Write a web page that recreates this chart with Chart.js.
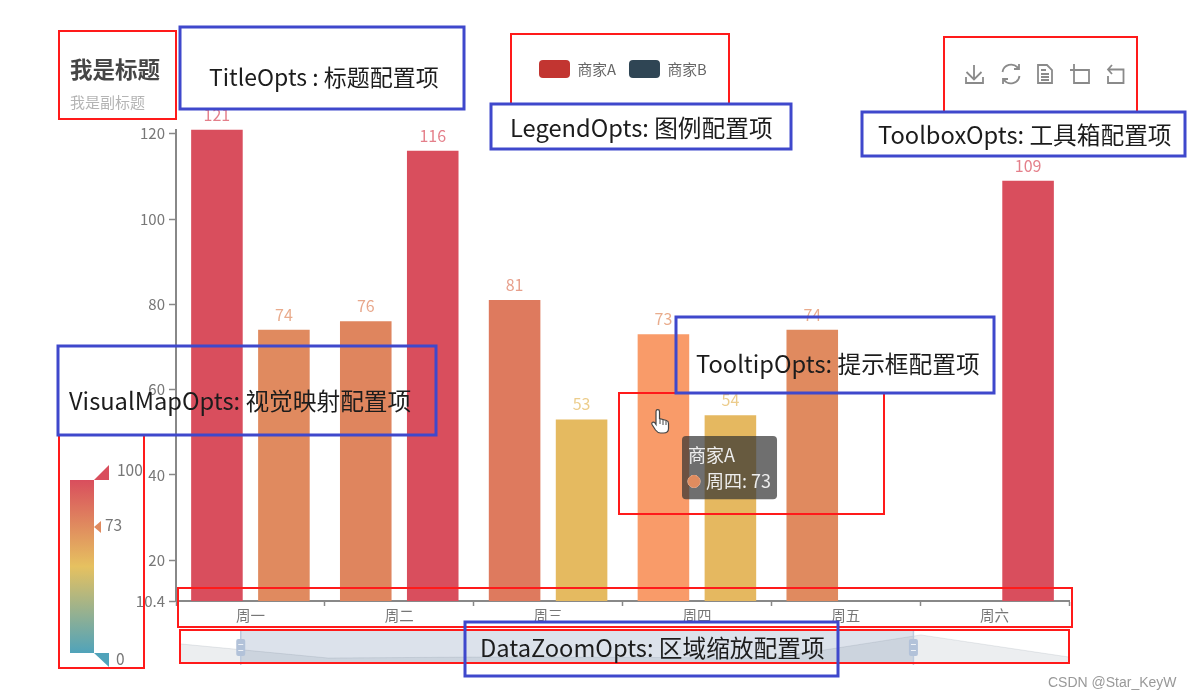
<!DOCTYPE html>
<html lang="zh">
<head>
<meta charset="utf-8">
<title>pyecharts 配置项</title>
<script src="https://cdn.jsdelivr.net/npm/chart.js@4/dist/chart.umd.min.js"></script>
<style>
    html, body { margin: 0; padding: 0; background: #fff; }
    #page { position: relative; width: 1189px; height: 700px; overflow: hidden; }
    canvas { position: absolute; display: block; }
    #mainChart { left: 0; top: 0; }
    #zoomChart { left: 180px; top: 629px; }
    #overlay { position: absolute; left: 0; top: 0; }
    #overlay text { font-family: "Noto Sans CJK SC", "Noto Sans", sans-serif; }
    .note { font-size: 23.7px; fill: #1c1c1c; }
    .blue { fill: none; stroke: #3f48cc; stroke-width: 3; }
    .red { fill: none; stroke: #ff1a1a; stroke-width: 2; }
    .icon { fill: none; stroke: #8a8a8a; stroke-width: 1.8; }
    .vm { font-size: 15.5px; fill: #777; }
</style>
</head>
<body>
<div id="page">
    <canvas id="mainChart" width="1189" height="700"></canvas>
    <canvas id="zoomChart" width="889" height="36"></canvas>
    <svg id="overlay" width="1189" height="700" xmlns="http://www.w3.org/2000/svg">
        <defs>
            <linearGradient id="vmGradient" x1="0" y1="0" x2="0" y2="1">
                <stop offset="0" stop-color="#d94e5d"/>
                <stop offset="0.5" stop-color="#e6c160"/>
                <stop offset="1" stop-color="#50a3ba"/>
            </linearGradient>
        </defs>

        <!-- visual map -->
        <rect x="70" y="480" width="24" height="173" fill="url(#vmGradient)"/>
        <path d="M94 480 L109 465 V480 Z" fill="#d94e5d"/>
        <path d="M94 653 L109 667 V653 Z" fill="#50a3ba"/>
        <path d="M94 527 L101 521 V533 Z" fill="#e08a5e"/>
        <text class="vm" x="117" y="476">100</text>
        <text class="vm" x="105" y="531">73</text>
        <text class="vm" x="116" y="665">0</text>

        <!-- toolbox -->
        <path class="icon" d="M974 65 V79 M966.5 72 L974 79.5 L981.5 72 M966 77 V83 H983 V77"/>
        <path class="icon" d="M1002.5 72 A8.7 8.7 0 0 1 1018 68 M1019 64 V69 H1014 M1019.5 76 A8.7 8.7 0 0 1 1004 80 M1003 84 V79 H1008"/>
        <path class="icon" d="M1038 65 H1047 L1052 70 V83 H1038 Z M1041 70 H1046 M1041 74 H1049 M1041 77 H1049 M1041 80 H1049"/>
        <path class="icon" d="M1070 70 H1089 V83 H1074 V64"/>
        <path class="icon" d="M1112 65 L1108 69.5 L1112 74 M1108 69.5 H1123.5 V83 H1108 V76"/>

        <!-- mouse cursor -->
        <path d="M656 411.5 c0 -2.5 3.5 -2.5 3.5 0 v7 l7 2 c1.5 .5 2 1.5 2 3 v5 c0 3 -2 4.500 -5 4.500 h-3 c-2.500 0 -3.500 -1 -5 -3 l-3.500 -5.500 c-1 -2 1.500 -3.500 3 -1.500 l1 1.500 Z" fill="#fff" stroke="#444" stroke-width="1.2"/>
        <path d="M660 419 v5 M663 420 v5 M666 421 v4" fill="none" stroke="#444" stroke-width="1"/>

        <!-- option call-outs -->
        <rect class="red" x="59" y="31" width="117" height="88"/>
        <rect class="blue" x="180" y="27" width="284" height="82" style="fill:#fff"/>
        <rect class="red" x="511" y="34" width="218" height="72"/>
        <rect class="blue" x="491" y="104" width="300" height="45" style="fill:#fff"/>
        <rect class="red" x="944" y="37" width="193" height="76"/>
        <rect class="blue" x="862" y="112" width="323" height="44" style="fill:#fff"/>
        <rect class="red" x="59" y="435" width="85" height="233"/>
        <rect class="blue" x="58" y="346" width="378" height="89"/>
        <rect class="red" x="619" y="393" width="265" height="121"/>
        <rect class="blue" x="676" y="317" width="318" height="76"/>
        <rect class="red" x="178" y="588" width="894" height="39"/>
        <rect class="red" x="180" y="630" width="889" height="33"/>
        <rect class="blue" x="465" y="622" width="373" height="54"/>

        <text class="note" x="209" y="86" style="font-size:23px">TitleOpts : 标题配置项</text>
        <text class="note" x="510" y="137">LegendOpts: 图例配置项</text>
        <text class="note" x="878" y="144">ToolboxOpts: 工具箱配置项</text>
        <text class="note" x="69" y="410">VisualMapOpts: 视觉映射配置项</text>
        <text class="note" x="696" y="373">TooltipOpts: 提示框配置项</text>
        <text class="note" x="480" y="657">DataZoomOpts: 区域缩放配置项</text>

        <text x="1048" y="687" style="font-family:'Liberation Sans',sans-serif;font-size:14px;fill:#999">CSDN @Star_KeyW</text>
    </svg>
</div>

<script>
// Reference values.
const days = ["周一", "周二", "周三", "周四", "周五", "周六"];
const merchantA = [121, 76, 81, 73, 74, null];
const merchantB = [74, 116, 53, 54, null, 109];
const seriesNames = ["商家A", "商家B"];
const legendColors = ["#c23531", "#2f4554"];
const yTicks = [10.4, 20, 40, 60, 80, 100, 120];

// Slider strip: shadow heights in percent of the strip, one more day than the main chart.
const shadowDays = ["周一", "周二", "周三", "周四", "周五", "周六", "周日"];
const shadowValues = [58, 15, 18, 17, 15, 85, 18];
const zoomWindow = [0.41, 4.95];

const FONT = '"Noto Sans CJK SC", "Noto Sans", sans-serif';
const AXIS_GREY = "#888";
const LABEL_GREY = "#777";

// Same ramp as the visual map on the left: 0 -> 50 -> 100.
const RAMP = [[80, 163, 186], [230, 193, 96], [217, 78, 93]];

function rampColor(value) {
    const t = Math.max(0, Math.min(1, value / 100)) * 2;
    const i = t >= 1 ? 1 : 0;
    const f = t - i;
    return RAMP[i].map((c, k) => Math.round(c + (RAMP[i + 1][k] - c) * f));
}

function rgb(c, alpha = 1) {
    return `rgba(${c[0]}, ${c[1]}, ${c[2]}, ${alpha})`;
}

const barColor = (v) => (v === null ? "transparent" : rgb(rampColor(v)));
const hoverColor = (v) => (v === null ? "transparent" : rgb(rampColor(v).map((c) => Math.min(255, c * 1.11))));

// ECharts-style value labels above each bar.
const valueLabels = {
    id: "valueLabels",
    afterDatasetsDraw(chart) {
        const { ctx } = chart;
        ctx.save();
        ctx.font = `16px ${FONT}`;
        ctx.textAlign = "center";
        ctx.textBaseline = "bottom";
        chart.data.datasets.forEach((ds, d) => {
            chart.getDatasetMeta(d).data.forEach((bar, i) => {
                const v = ds.data[i];
                if (v === null) return;
                ctx.fillStyle = rgb(rampColor(v), 0.72);
                ctx.fillText(String(v), bar.x, bar.y - 7);
            });
        });
        ctx.restore();
    },
};

// The legend sits beside the title in the original, so it is moved out of the top stack.
const legendSpot = {
    id: "legendSpot",
    afterLayout(chart) {
        const legend = chart.legend;
        legend.left = 526;
        legend.right = 730;
        legend.top = 47;
        legend.bottom = 95;
    },
};

Chart.Tooltip.positioners.hoverSpot = () => ({ x: 686, y: 436 });

const mainChart = new Chart(document.getElementById("mainChart"), {
    type: "bar",
    data: {
        labels: days,
        datasets: [
            {
                label: seriesNames[0],
                data: merchantA,
                backgroundColor: merchantA.map(barColor),
                hoverBackgroundColor: merchantA.map(hoverColor),
            },
            {
                label: seriesNames[1],
                data: merchantB,
                backgroundColor: merchantB.map(barColor),
                hoverBackgroundColor: merchantB.map(hoverColor),
            },
        ],
    },
    options: {
        responsive: false,
        animation: false,
        events: [],
        categoryPercentage: 0.9,
        barPercentage: 0.77,
        layout: { padding: { left: 70, right: 120 } },
        plugins: {
            title: {
                display: true,
                text: "我是标题",
                align: "start",
                color: "#464646",
                font: { family: FONT, size: 22.5, weight: "bold" },
                padding: { top: 56, bottom: 0 },
            },
            subtitle: {
                display: true,
                text: "我是副标题",
                align: "start",
                color: "#b4b4b4",
                font: { family: FONT, size: 15 },
                padding: { top: 10, bottom: 18.5 },
            },
            legend: {
                position: "top",
                align: "start",
                maxHeight: 0.01,
                labels: {
                    boxWidth: 31,
                    boxHeight: 18,
                    padding: 13,
                    color: "#666",
                    useBorderRadius: true,
                    borderRadius: 4,
                    font: { family: FONT, size: 14.8 },
                    generateLabels: () => seriesNames.map((text, i) => ({
                        text,
                        fillStyle: legendColors[i],
                        strokeStyle: legendColors[i],
                        lineWidth: 0,
                        fontColor: "#666",
                        borderRadius: 4,
                        datasetIndex: i,
                    })),
                },
            },
            tooltip: {
                position: "hoverSpot",
                xAlign: "left",
                yAlign: "top",
                caretSize: 0,
                caretPadding: 0,
                cornerRadius: 4,
                backgroundColor: "rgba(50, 50, 50, 0.7)",
                titleColor: "#eee",
                bodyColor: "#eee",
                titleFont: { family: FONT, size: 18, weight: "normal" },
                bodyFont: { family: FONT, size: 18 },
                titleMarginBottom: 5,
                padding: { left: 6, right: 6, top: 8, bottom: 7 },
                usePointStyle: true,
                boxWidth: 12,
                boxHeight: 12,
                boxPadding: 4,
                callbacks: {
                    title: (items) => items[0].dataset.label,
                    label: (item) => `${item.label}: ${item.raw}`,
                    labelColor: (item) => ({
                        backgroundColor: rgb(rampColor(item.raw)),
                        borderColor: rgb(rampColor(item.raw)),
                    }),
                    labelPointStyle: () => ({ pointStyle: "circle", rotation: 0 }),
                },
            },
        },
        scales: {
            x: {
                afterFit: (scale) => { scale.height = 99; },
                grid: { drawOnChartArea: false, tickLength: 5, tickColor: AXIS_GREY, tickWidth: 1.5 },
                border: { color: AXIS_GREY, width: 2 },
                ticks: { color: LABEL_GREY, font: { family: FONT, size: 14.5 }, padding: 1 },
            },
            y: {
                min: 10.4,
                max: 121,
                afterFit: (scale) => { scale.width = 106; },
                afterBuildTicks: (scale) => { scale.ticks = yTicks.map((value) => ({ value })); },
                grid: { drawOnChartArea: false, tickLength: 7, tickColor: AXIS_GREY, tickWidth: 1.5 },
                border: { color: AXIS_GREY, width: 2 },
                ticks: {
                    color: LABEL_GREY,
                    font: { family: FONT, size: 15 },
                    padding: 4,
                    autoSkip: false,
                    callback: (v) => String(v),
                },
            },
        },
    },
    plugins: [valueLabels, legendSpot],
});

// Freeze the hover state shown in the picture: 商家A on 周四.
const hovered = [{ datasetIndex: 0, index: days.indexOf("周四") }];
mainChart.setActiveElements(hovered);
mainChart.tooltip.setActiveElements(hovered, { x: 0, y: 0 });
mainChart.update();

// ── Data zoom slider ───────────────────────────────────────────────────────

const sliderWindow = {
    id: "sliderWindow",
    beforeDatasetsDraw(chart) {
        const { ctx, scales: { x }, height } = chart;
        const [from, to] = zoomWindow.map((v) => x.getPixelForValue(v));
        ctx.save();
        ctx.fillStyle = "rgba(167, 183, 204, 0.4)";
        ctx.fillRect(from, 1, to - from, height - 3);
        ctx.restore();
    },
    afterDatasetsDraw(chart) {
        const { ctx, scales: { x }, height } = chart;
        ctx.save();
        zoomWindow.map((v) => x.getPixelForValue(v)).forEach((px) => {
            ctx.fillStyle = "#bccadd";
            ctx.fillRect(px - 0.75, 0, 1.5, height);
            ctx.fillStyle = "#b2c2d9";
            ctx.beginPath();
            ctx.roundRect(px - 4.5, 10, 9, 17, 2);
            ctx.fill();
            ctx.fillStyle = "#eef2f7";
            ctx.fillRect(px - 2.5, 15, 5, 1);
            ctx.fillRect(px - 2.5, 21, 5, 1);
        });
        ctx.restore();
    },
};

new Chart(document.getElementById("zoomChart"), {
    type: "line",
    data: {
        labels: shadowDays,
        datasets: [{
            data: shadowValues,
            fill: "origin",
            tension: 0,
            pointRadius: 0,
            borderWidth: 1,
            borderColor: "rgba(47, 69, 84, 0.1)",
            backgroundColor: "rgba(47, 69, 84, 0.09)",
        }],
    },
    options: {
        responsive: false,
        animation: false,
        events: [],
        layout: { padding: { top: 1, bottom: 2 } },
        plugins: { legend: { display: false }, tooltip: { enabled: false } },
        scales: {
            x: { display: false, offset: false },
            y: { display: false, min: 0, max: 100 },
        },
    },
    plugins: [sliderWindow],
});
</script>
</body>
</html>
